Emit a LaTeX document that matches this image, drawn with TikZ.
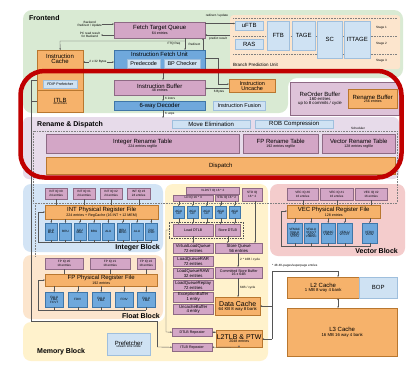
\documentclass[tikz,border=0pt]{standalone}
\usepackage{fontspec}
\setmainfont{Liberation Sans}
\usetikzlibrary{arrows.meta}
\definecolor{greenbg}{HTML}{D9EAD3}
\definecolor{renbg}{HTML}{E7DBEA}
\definecolor{intbg}{HTML}{D3E4F5}
\definecolor{fltbg}{HTML}{FCE5CD}
\definecolor{membg}{HTML}{FFF2CC}
\definecolor{vecbg}{HTML}{F4CCCC}
\definecolor{purp}{HTML}{D3A6C6}
\definecolor{purpd}{HTML}{8E6A85}
\definecolor{robc}{HTML}{DEC3D9}
\definecolor{orng}{HTML}{F6B26B}
\definecolor{orngd}{HTML}{B9772F}
\definecolor{blu}{HTML}{6FA8DC}
\definecolor{blud}{HTML}{3F76A8}
\definecolor{lblu}{HTML}{CFE2F3}
\definecolor{lblud}{HTML}{9FBFDD}
\definecolor{linec}{HTML}{555555}
\definecolor{redc}{HTML}{C00000}
\newcommand\TA{\fontsize{6}{6.6}\selectfont}
\newcommand\TL{\fontsize{7}{7.6}\selectfont}
\newcommand\TS{\fontsize{5.5}{6}\selectfont}
\newcommand\TB{\fontsize{3.6}{4.1}\selectfont}
\newcommand\TM{\fontsize{4.3}{4.6}\selectfont}
\newcommand\TC{\fontsize{3.1}{3.5}\selectfont}
\newcommand\BX[7]{\node[#1,minimum width=#5pt,minimum height=#6pt] (#2) at (#3,#4) {#7};}
\begin{document}
\begin{tikzpicture}[x=1pt,y=-1pt,
  box/.style={draw, line width=0.4pt, align=center, inner sep=0pt, anchor=north west, font=\fontsize{2}{2.4}\selectfont},
  pbox/.style={box, fill=purp, draw=purpd},
  obox/.style={box, fill=orng, draw=orngd},
  bbox/.style={box, fill=blu, draw=blud},
  lbox/.style={box, fill=lblu, draw=lblud},
  ln/.style={line width=0.35pt, draw=linec},
  ar/.style={ln, -{Stealth[length=1.7pt,width=1.6pt]}},
  arr/.style={ln, {Stealth[length=1.7pt,width=1.6pt]}-{Stealth[length=1.7pt,width=1.6pt]}},
  dotln/.style={line width=0.35pt, draw=gray, dash pattern=on 0.8pt off 0.8pt},
  lbl/.style={inner sep=0pt, align=center, font=\fontsize{2}{2.4}\selectfont},
  hdr/.style={inner sep=0pt, anchor=west, font=\fontsize{7}{8}\selectfont\bfseries},
  bhdr/.style={inner sep=0pt, font=\fontsize{7}{8}\selectfont\bfseries}]
\useasboundingbox (0,0) rectangle (411,368);
\fill[white] (0,0) rectangle (411,368);
% ---------- backgrounds
\fill[greenbg, rounded corners=9pt] (23,10) -- (403,10) -- (403,78) -- (288,78) -- (288,113) -- (23,113) -- cycle;
\fill[renbg, rounded corners=6pt] (23,117) rectangle (399,179);
\fill[intbg, rounded corners=8pt] (23,184) rectangle (163,252);
\fill[fltbg, rounded corners=8pt] (23,255) rectangle (163,319);
\fill[membg, rounded corners=8pt] (165,184) -- (268,184) -- (268,361) -- (23,361) -- (23,322) -- (165,322) -- cycle;
\fill[vecbg, rounded corners=8pt] (270,184) rectangle (405,256);
% ---------- Frontend
\node[hdr] (hfront) at (29,18) {Frontend};
\BX{pbox}{FTQ}{114}{22}{91}{16}{\TA Fetch Target Queue\\\TB 64 entries}
\BX{bbox}{IFU}{114}{50}{91}{20}{}
\node[lbl] (IFUl) at (159.5,54.5) {\TA Instruction Fetch Unit};
\BX{lbox}{PreD}{127}{59}{33}{9}{\TS Predecode}
\BX{lbox}{BPC}{164}{59}{36}{9}{\TS BP Checker}
\BX{obox}{ICache}{37}{50}{46}{40}{}
\node[lbl] (ICl) at (60,59) {\TA Instruction\\\TA Cache};
\BX{lbox}{FDIP}{43}{80}{34}{8}{\TB FDIP Prefetcher}
\BX{obox}{ITLB}{37}{90}{46}{22}{\TA ITLB\\\TC 48 entries}
\BX{pbox}{IB}{114}{80}{91}{15}{\TA Instruction Buffer\\\TB 48 entries}
\BX{bbox}{Dec}{114}{101}{91}{9}{\TA 6-way Decoder}
\BX{lbox}{IFus}{213}{101}{52}{9}{\TS Instruction Fusion}
\BX{obox}{IUnc}{229}{79}{46}{13}{\TS Instruction\\\TS Uncache}
\node[lbl, anchor=east, align=center] (lbr) at (102,24) {\TC Backend\\\TC Redirect / Update};
\node[lbl, anchor=east, align=center] (lpc) at (100,35) {\TC PC read result\\\TC for Backend};
\draw[ar] (lbr.east) -- (FTQ.west |- lbr.east);
\draw[ar] (FTQ.west |- lpc.east) -- ([xshift=1pt]lpc.east);
% BPU
\node[box, draw=none, fill=fltbg, rounded corners=3pt, minimum width=170pt, minimum height=54pt] (BPU) at (230,15) {};
\draw[dotln] (233,18.5) -- (397,18.5);
\draw[dotln] (233,36) -- (397,36);
\draw[dotln] (233,54) -- (397,54);
\BX{lbox}{uFTB}{235}{21}{28}{9}{\TA uFTB}
\BX{lbox}{RAS}{235}{39}{28}{10}{\TA RAS}
\BX{lbox}{FTB}{267}{21}{22}{29}{\TA FTB}
\BX{lbox}{TAGE}{292}{21}{23}{29}{\TA TAGE}
\BX{lbox}{SC}{317}{21}{25}{37}{\TA SC}
\BX{lbox}{ITTAGE}{344}{21}{26}{37}{\TA ITTAGE}
\node[lbl, anchor=west] (st1) at (376,28) {\TC Stage 1};
\node[lbl, anchor=west] (st2) at (376,44) {\TC Stage 2};
\node[lbl, anchor=west] (st3) at (376,61) {\TC Stage 3};
\node[lbl, anchor=west] (bpul) at (233,65) {\fontsize{4.5}{5}\selectfont Branch Prediction Unit};
\node[lbl] (lru) at (217,16) {\TC redirect / update};
\node[lbl] (lpr) at (218,38.5) {\TC predict result};
\draw[ar] (FTQ.east |- 0,23.5) -- (uFTB.west |- 0,23.5);
\draw[ar] (BPU.west |- 0,35) -- (FTQ.east |- 0,35);
% fetch connections
\node[lbl] (lreq) at (174,44) {\TC FTQ Req};
\node[lbl] (lred) at (194.5,44) {\TC Redirect};
\draw[ar] (FTQ.south -| 185,0) -- (IFU.north -| 185,0);
\draw[ar] (185,41) -- (60,41) -- (ICache.north);
\draw[ar] (IFU.north -| 203,0) -- (FTQ.south -| 203,0);
\draw[arr] (ICache.east |- 0,62) -- (IFU.west |- 0,62);
\node[lbl, fill=greenbg, inner sep=0.6pt] (l2x32) at (98,62) {\TC 2 x 32 Bytes};
\draw[ar] (IFU.south -| 163,0) -- (IB.north -| 163,0);
\draw[ar] (IB.south -| 163,0) -- (Dec.north -| 163,0);
\node[lbl, anchor=west] (l6i) at (165,98) {\TC 6 instrs};
\draw[ar] (Dec.south -| 163,0) -- (163,118);
\node[lbl, anchor=west] (l6u) at (165,113.5) {\TC 6 uops};
\draw[ar] (IFU.east |- 0,58) -- (218,58) -- (218,84) -- (IUnc.west |- 0,84);
\draw[ar] (IUnc.west |- 0,88.5) -- (IB.east |- 0,88.5);
\node[lbl] (l6b) at (219,91.5) {\TC 6 Bytes};
\draw[ln] (ICache.west |- 0,80) -- (31,80) -- (31,321) -- (157,321) -- (157,347);
\draw[ln] (ITLB.west |- 0,101) -- (31,101);
% ROB
\BX{box, fill=robc, draw=purpd}{ROB}{290}{82}{109}{33}{}
\node[lbl] (ROBl) at (320,98.5) {\TA ReOrder Buffer\\\TM 160 entries\\\TM up to 8 commits / cycle};
\BX{obox}{RenBuf}{348}{89}{49}{19}{\TA Rename Buffer\\\TB 256 entries}
% ---------- Rename & Dispatch
\node[hdr] (hren) at (37,124.5) {Rename \& Dispatch};
\BX{lbox}{MoveE}{172}{120}{78}{8}{\TA Move Elimination}
\BX{lbox}{ROBC}{255}{120}{78}{8}{\TA ROB Compression}
\node[lbl] (lsch) at (358,128) {\TC Scheduler};
\draw[dotln] (33,131) rectangle (397,203);
\draw[dotln] (35,203) -- (35,257);
\BX{pbox}{IntRT}{46}{134}{193}{19}{\TA Integer Rename Table\\\TB 224 entries regfile}
\BX{pbox}{FPRT}{243}{134}{75}{19}{\TA FP Rename Table\\\TB 192 entries regfile}
\BX{pbox}{VecRT}{322}{134}{73}{19}{\TA Vector Rename Table\\\TB 128 entries regfile}
\BX{obox}{Disp}{46}{157}{349}{17}{\TA Dispatch}
% ---------- Integer block
\BX{pbox}{IQa}{45}{188}{22}{11}{\TC INT IQ \#0\\\TC 24 entries}
\BX{pbox}{IQb}{73}{188}{22}{11}{\TC INT IQ \#1\\\TC 24 entries}
\BX{pbox}{IQc}{100}{188}{22}{11}{\TC INT IQ \#2\\\TC 24 entries}
\BX{pbox}{IQd}{127}{188}{23}{11}{\TC INT IQ \#3\\\TC 24 entries}
\BX{obox}{IPRF}{45}{205}{113}{14}{\TA INT Physical Register File\\\TB 224 entries + RegCache (16 INT + 12 MEM)}
\foreach \q in {IQa,IQb,IQc,IQd} {\draw[ln] (\q.south) -- (IPRF.north -| \q.south);}
\BX{bbox}{FUa}{45}{223}{12}{17}{\TC ALU\\\TC MUL}
\BX{bbox}{FUb}{59.3}{223}{12}{17}{\TC BRU}
\BX{bbox}{FUc}{73.6}{223}{12}{17}{\TC ALU\\\TC MUL}
\BX{bbox}{FUd}{87.9}{223}{12}{17}{\TC BRU}
\BX{bbox}{FUe}{102.2}{223}{12}{17}{\TC ALU}
\BX{bbox}{FUf}{116.5}{223}{12}{17}{\TC BRU\\\TC MISC}
\BX{bbox}{FUg}{130.8}{223}{12}{17}{\TC ALU}
\BX{bbox}{FUh}{145.1}{223}{12}{17}{\TC DIV\\\TC CSR}
\foreach \f in {FUa,FUb,FUc,FUd,FUe,FUf,FUg,FUh} {\draw[ar] (IPRF.south -| \f.north) -- (\f.north); \draw[ln] (\f.south) -- (\f.south |- 0,242.5);}
\draw[ar] (FUh.south |- 0,242.5) -- (38,242.5) -- (38,212) -- (IPRF.west |- 0,212);
\node[bhdr, anchor=east] (hint) at (160,248) {Integer Block};
% ---------- Float block
\BX{pbox}{FQa}{45}{258}{38}{11}{\TC FP IQ \#0\\\TC 18 entries}
\BX{pbox}{FQb}{90}{258}{40}{11}{\TC FP IQ \#1\\\TC 18 entries}
\BX{pbox}{FQc}{137}{258}{18}{11}{\TC FP IQ \#2\\\TC 18 entries}
\BX{obox}{FPRF}{45}{274}{112}{12}{\TA FP Physical Register File\\\TB 192 entries}
\foreach \q in {FQa,FQb,FQc} {\draw[ln] (\q.south) -- (FPRF.north -| \q.south);}
\BX{bbox}{FFa}{45}{292}{18}{15}{\TC FALU\\\TC FMA\\\TC FCVT}
\BX{bbox}{FFb}{68}{292}{19}{15}{\TC FDIV}
\BX{bbox}{FFc}{92}{292}{18}{15}{\TC FALU\\\TC FMA}
\BX{bbox}{FFd}{115}{292}{18}{15}{\TC FDIV}
\BX{bbox}{FFe}{137}{292}{18}{15}{\TC FALU\\\TC FMA}
\foreach \f in {FFa,FFb,FFc,FFd,FFe} {\draw[ar] (FPRF.south -| \f.north) -- (\f.north); \draw[ln] (\f.south) -- (\f.south |- 0,310);}
\draw[ar] (FFe.south |- 0,310) -- (38,310) -- (38,280) -- (FPRF.west |- 0,280);
\node[bhdr, anchor=east] (hflt) at (160,315.5) {Float Block};
% ---------- Vector block
\BX{pbox}{VQa}{287}{188}{31}{12}{\TC VEC IQ \#0\\\TC 16 entries}
\BX{pbox}{VQb}{320}{188}{33}{12}{\TC VEC IQ \#1\\\TC 16 entries}
\BX{pbox}{VQc}{355}{188}{32}{12}{\TC VEC IQ \#2\\\TC 16 entries}
\BX{obox}{VPRF}{287}{205}{93}{13}{\TA VEC Physical Register File\\\TB 128 entries}
\foreach \q in {VQa,VQb,VQc} {\draw[ln] (\q.south) -- (VPRF.north -| \q.south);}
\BX{bbox}{VFa}{287}{223}{15}{20}{\TC VFMAC\\\TC VIALU\\\TC VIMAC\\\TC VPPU}
\BX{bbox}{VFb}{304}{223}{14}{20}{\TC VFALU\\\TC VFCVT\\\TC VIPU\\\TC VIMISC}
\BX{bbox}{VFc}{321}{223}{14}{20}{\TC VFMAC\\\TC VIALU}
\BX{bbox}{VFd}{337}{223}{15}{20}{\TC VFALU\\\TC VFCVT}
\BX{bbox}{VFe}{362}{223}{15}{20}{\TC VFDIV\\\TC VIDIV}
\foreach \f in {VFa,VFb,VFc,VFd,VFe} {\draw[ar] (VPRF.south -| \f.north) -- (\f.north); \draw[ln] (\f.south) -- (\f.south |- 0,246.5);}
\draw[ar] (VFe.south |- 0,246.5) -- (281,246.5) -- (281,211) -- (VPRF.west |- 0,211);
\node[bhdr, anchor=east] (hvec) at (398,250.5) {Vector Block};
% ---------- Memory block
\BX{pbox}{VLDST}{186}{187}{53}{7}{\TC VLDST IQ 16 * 2}
\BX{pbox}{LDIQ}{173}{195}{40}{6}{\TC LD IQ 16 * 3}
\BX{pbox}{STAIQ}{215}{195}{23}{6}{\TC STA IQ 16 * 2}
\BX{pbox}{STDIQ}{242}{188}{20}{13}{\TC STD IQ\\\TC 16 * 2}
\BX{bbox}{AGa}{173}{206}{11}{12}{\TC AGU\\\TC LD}
\BX{bbox}{AGb}{187}{206}{11}{12}{\TC AGU\\\TC LD}
\BX{bbox}{AGc}{201}{206}{11}{12}{\TC AGU\\\TC LD}
\BX{bbox}{AGd}{215}{206}{11}{12}{\TC AGU\\\TC ST}
\BX{bbox}{AGe}{229}{206}{11}{12}{\TC AGU\\\TC ST}
\foreach \a in {AGa,AGb,AGc} {\draw[ar] (LDIQ.south -| \a.north) -- (\a.north);}
\foreach \a in {AGd,AGe} {\draw[ar] (STAIQ.south -| \a.north) -- (\a.north);}
\node[box, draw=linec, dash pattern=on 0.8pt off 0.8pt, minimum width=74pt, minimum height=16pt] (DTLBbox) at (169,222) {};
\BX{pbox}{LDTLB}{173}{224}{40}{12}{\TB Load DTLB}
\BX{pbox}{SDTLB}{215}{224}{25}{12}{\TB Store DTLB}
\foreach \a in {AGa,AGb,AGc} {\draw[ar] (\a.south) -- (LDTLB.north -| \a.south);}
\foreach \a in {AGd,AGe} {\draw[ar] (\a.south) -- (SDTLB.north -| \a.south);}
\BX{pbox}{VLQ}{173}{243}{40}{10}{\TM VirtualLoadQueue\\\TM 72 entries}
\BX{pbox}{SQ}{215}{243}{47}{10}{\TM Store Queue\\\TM 56 entries}
\BX{pbox}{RAR}{173}{256}{40}{10}{\TM LoadQueueRAR\\\TM 72 entries}
\BX{pbox}{RAW}{173}{268}{40}{10}{\TM LoadQueueRAW\\\TM 32 entries}
\BX{pbox}{RPL}{173}{280}{40}{10}{\TM LoadQueueReplay\\\TM 72 entries}
\BX{pbox}{EXB}{173}{292}{40}{10}{\TM ExceptionBuffer\\\TM 1 entry}
\BX{pbox}{UCB}{173}{304}{40}{10}{\TM UncacheBuffer\\\TM 4 entry}
\draw[ar] (LDTLB.south) -- (VLQ.north);
\draw[ar] (SDTLB.south) -- (SQ.north -| SDTLB.south);
\draw[ar] (STDIQ.south -| 255,0) -- (SQ.north -| 255,0);
\BX{pbox}{CSB}{215}{267}{47}{11}{\TB Committed Store Buffer\\\TB 16 x 64B}
\BX{obox}{DC}{215}{297}{45}{18}{\TL Data Cache\\\TM 64 KB 8 way 8 bank}
\draw[ar] (SQ.south -| 238,0) -- (CSB.north -| 238,0);
\node[lbl, anchor=west] (l216) at (240,260) {\TC 2 * 16B / cycle};
\draw[ar] (CSB.south -| 238,0) -- (DC.north -| 238,0);
\node[lbl, anchor=west] (l64) at (240,288) {\TC 64B / cycle};
\BX{pbox}{DTR}{172}{328}{40}{8}{\TB DTLB Repeater}
\BX{pbox}{ITR}{172}{343}{40}{8}{\TB ITLB Repeater}
\BX{obox}{L2TLB}{216}{330}{46}{17}{\TL L2TLB \& PTW\\\TB 2048 entries}
\draw[ar] (DTLBbox.west |- 0,230) -- (166,230) -- (166,332) -- (DTR.west);
\draw[arr] (DTR.east) -- (L2TLB.west |- DTR.east);
\draw[arr] (ITR.east) -- (239,347) -- (L2TLB.south -| 239,0);
\draw[ar] (157,347) -- (ITR.west);
\BX{lbox}{Pref}{107}{333}{43}{22}{\TA Prefetcher\\\TC stream sms stride}
\node[hdr] (hmem) at (37,352) {Memory Block};
% ---------- L2 / L3
\node[lbl, anchor=west] (lnote) at (272,265.5) {\TC * 48 4K-pages/superpage entries};
\BX{obox}{L2}{287}{277}{72}{21}{\TA L2 Cache\\\TM 1 MB 8 way 4 bank}
\BX{lbox}{BOP}{359}{277}{38}{21}{\TA BOP}
\BX{obox}{L3}{287}{308}{110}{48}{\TA L3 Cache\\\TM 16 MB 16 way 4 bank}
\draw[ar] (272,339) -- (272,271) -- (338,271) -- (L2.north -| 338,0);
\draw[ar] (272,306) -- (DC.east |- 0,306);
\draw[ar] (272,339) -- (L2TLB.east |- 0,339);
\draw[arr] (L2.south -| 338,0) -- (L3.north -| 338,0);
% ---------- red highlight
\draw[line width=4.5pt, draw=redc, rounded corners=24pt] (20.5,71) rectangle (401.5,177.5);
\end{tikzpicture}
\end{document}
